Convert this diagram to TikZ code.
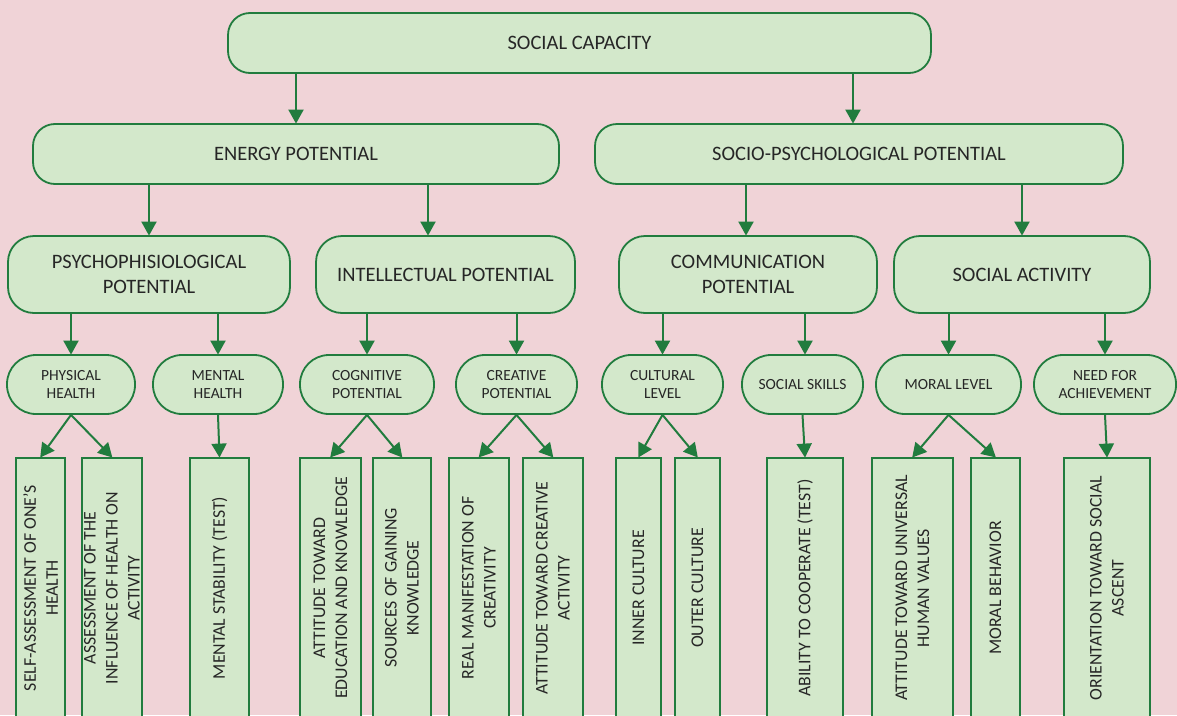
\documentclass[tikz,border=0pt]{standalone}
\usepackage{fontspec}
\setmainfont{Carlito}
\usetikzlibrary{arrows.meta}

\definecolor{bgpink}{HTML}{F0D3D7}
\definecolor{boxfill}{HTML}{D3E8CB}
\definecolor{boxline}{HTML}{217C3E}
\definecolor{ink}{HTML}{262626}

\tikzset{
  base/.style={draw=boxline, fill=boxfill, line width=1.8pt, text=ink,
    align=center, inner sep=0pt},
  bigpill/.style={base, rounded corners=22pt, minimum height=60pt,
    font=\fontsize{20.5}{25}\selectfont},
  midpill/.style={base, rounded corners=26pt, minimum height=77pt,
    font=\fontsize{20.5}{25}\selectfont},
  smallpill/.style={base, rounded corners=29pt, minimum height=59pt,
    font=\fontsize{15.5}{18}\selectfont},
  leaf/.style={base, minimum height=260pt},
  leaftext/.style={rotate=90, text=ink, align=center, inner sep=0pt,
    font=\fontsize{17.8}{22}\selectfont},
  arr/.style={draw=boxline, line width=2pt,
    -{Triangle[length=14pt,width=15pt]}, shorten >=-0.5pt},
}

\begin{document}
\begin{tikzpicture}[x=1pt, y=-1pt]
  \useasboundingbox (0,0) rectangle (1177,715);
  \fill[bgpink] (0,0) rectangle (1177,715);
  \clip (0,0) rectangle (1177,715);

  % top level
  \node[bigpill, minimum width=703pt] (sc) at (579.5,43) {SOCIAL CAPACITY};

  % second level
  \node[bigpill, minimum width=526pt] (en) at (296,154) {ENERGY POTENTIAL};
  \node[bigpill, minimum width=528pt] (sp) at (859,154) {SOCIO-PSYCHOLOGICAL POTENTIAL};

  % third level
  \node[midpill, minimum width=282pt] (ps) at (149,274.5) {PSYCHOPHISIOLOGICAL\\POTENTIAL};
  \node[midpill, minimum width=259pt] (ip) at (445.5,274.5) {INTELLECTUAL POTENTIAL};
  \node[midpill, minimum width=258pt] (cp) at (748,274.5) {COMMUNICATION\\POTENTIAL};
  \node[midpill, minimum width=256pt] (sa) at (1022,274.5) {SOCIAL ACTIVITY};

  % fourth level
  \node[smallpill, minimum width=128pt] (ph) at (71,384.5) {PHYSICAL\\HEALTH};
  \node[smallpill, minimum width=130pt] (mh) at (218,384.5) {MENTAL\\HEALTH};
  \node[smallpill, minimum width=134pt] (cg) at (367,384.5) {COGNITIVE\\POTENTIAL};
  \node[smallpill, minimum width=121pt] (cr) at (516.5,384.5) {CREATIVE\\POTENTIAL};
  \node[smallpill, minimum width=121pt] (cu) at (662.5,384.5) {CULTURAL\\LEVEL};
  \node[smallpill, minimum width=121pt] (ss) at (802.5,384.5) {SOCIAL SKILLS};
  \node[smallpill, minimum width=145pt] (ml) at (948.5,384.5) {MORAL LEVEL};
  \node[smallpill, minimum width=142pt] (na) at (1105,384.5) {NEED FOR\\ACHIEVEMENT};

  % indicator columns
  \node[leaf, minimum width=49pt] (r1) at (40.5,588) {};
  \node[leaf, minimum width=60pt] (r2) at (112,588) {};
  \node[leaf, minimum width=59pt] (r3) at (219.5,588) {};
  \node[leaf, minimum width=61pt] (r4) at (330.5,588) {};
  \node[leaf, minimum width=58pt] (r5) at (402,588) {};
  \node[leaf, minimum width=60pt] (r6) at (479,588) {};
  \node[leaf, minimum width=60pt] (r7) at (553,588) {};
  \node[leaf, minimum width=45pt] (r8) at (638.5,588) {};
  \node[leaf, minimum width=45pt] (r9) at (697.5,588) {};
  \node[leaf, minimum width=76pt] (r10) at (805,588) {};
  \node[leaf, minimum width=81pt] (r11) at (912.5,588) {};
  \node[leaf, minimum width=49pt] (r12) at (995.5,588) {};
  \node[leaf, minimum width=86pt] (r13) at (1107,588) {};

  \node[leaftext] (t1) at (r1) {SELF-ASSESSMENT OF ONE’S\\HEALTH};
  \node[leaftext] (t2) at (r2) {ASSESSMENT OF THE\\INFLUENCE OF HEALTH ON\\ACTIVITY};
  \node[leaftext] (t3) at (r3) {MENTAL STABILITY (TEST)};
  \node[leaftext] (t4) at (r4) {ATTITUDE TOWARD\\EDUCATION AND KNOWLEDGE};
  \node[leaftext] (t5) at (r5) {SOURCES OF GAINING\\KNOWLEDGE};
  \node[leaftext] (t6) at (r6) {REAL MANIFESTATION OF\\CREATIVITY};
  \node[leaftext] (t7) at (r7) {ATTITUDE TOWARD CREATIVE\\ACTIVITY};
  \node[leaftext] (t8) at (r8) {INNER CULTURE};
  \node[leaftext] (t9) at (r9) {OUTER CULTURE};
  \node[leaftext] (t10) at (r10) {ABILITY TO COOPERATE (TEST)};
  \node[leaftext] (t11) at (r11) {ATTITUDE TOWARD UNIVERSAL\\HUMAN VALUES};
  \node[leaftext] (t12) at (r12) {MORAL BEHAVIOR};
  \node[leaftext] (t13) at (r13) {ORIENTATION TOWARD SOCIAL\\ASCENT};

  % connectors, level 1 -> 2
  \draw[arr] (sc.south -| en.north) -- (en.north);
  \draw[arr] ([xshift=-6pt]sp.north |- sc.south) -- ([xshift=-6pt]sp.north);

  % level 2 -> 3
  \draw[arr] (en.south -| ps.north) -- (ps.north);
  \draw[arr] ([xshift=-17.5pt]ip.north |- en.south) -- ([xshift=-17.5pt]ip.north);
  \draw[arr] ([xshift=-2pt]cp.north |- sp.south) -- ([xshift=-2pt]cp.north);
  \draw[arr] (sp.south -| sa.north) -- (sa.north);

  % level 3 -> 4
  \draw[arr] (ps.south -| ph.north) -- (ph.north);
  \draw[arr] (ps.south -| mh.north) -- (mh.north);
  \draw[arr] (ip.south -| cg.north) -- (cg.north);
  \draw[arr] (ip.south -| cr.north) -- (cr.north);
  \draw[arr] (cp.south -| cu.north) -- (cu.north);
  \draw[arr] ([xshift=2.5pt]cp.south -| ss.north) -- ([xshift=2.5pt]ss.north);
  \draw[arr] (sa.south -| ml.north) -- (ml.north);
  \draw[arr] (sa.south -| na.north) -- (na.north);

  % level 4 -> indicators
  \draw[arr] (ph.south) -- (r1.north);
  \draw[arr] (ph.south) -- (r2.north);
  \draw[arr] (mh.south) -- (r3.north);
  \draw[arr] (cg.south) -- (r4.north);
  \draw[arr] (cg.south) -- (r5.north);
  \draw[arr] (cr.south) -- (r6.north);
  \draw[arr] (cr.south) -- (r7.north);
  \draw[arr] (cu.south) -- (r8.north);
  \draw[arr] (cu.south) -- (r9.north);
  \draw[arr] (ss.south) -- (r10.north);
  \draw[arr] (ml.south) -- (r11.north);
  \draw[arr] (ml.south) -- (r12.north);
  \draw[arr] (na.south) -- (r13.north);
\end{tikzpicture}
\end{document}
